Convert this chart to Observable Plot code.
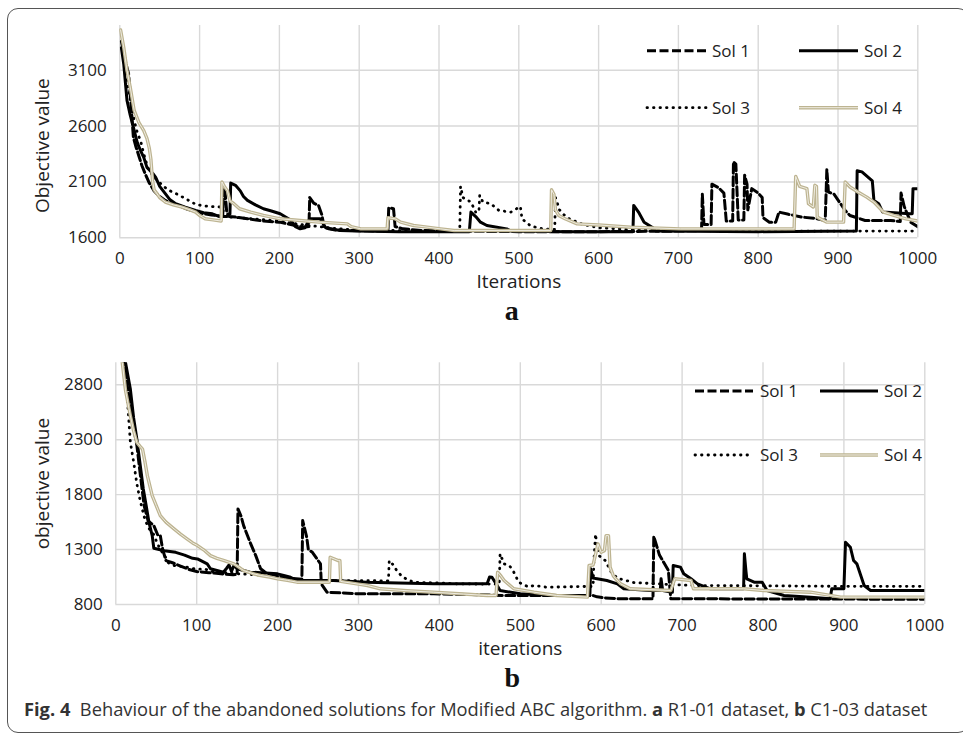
<!DOCTYPE html>
<html><head><meta charset="utf-8">
<script src="https://cdn.jsdelivr.net/npm/d3@7"></script>
<script src="https://cdn.jsdelivr.net/npm/@observablehq/plot@0.6"></script>
<style>
body{margin:0;background:#fff;font-family:"Open Sans",sans-serif;}
#page{position:relative;width:963px;height:736px;overflow:hidden;background:#fff;}
#frame{position:absolute;left:7px;top:8px;width:962px;height:725px;border:1px solid #555;border-radius:11px;box-sizing:border-box;z-index:5;pointer-events:none;}
.chart{position:absolute;left:0;}
.chart svg{background:none !important;}
#caption{position:absolute;left:24px;top:696px;font-size:18.3px;color:#333;white-space:pre;font-family:"Open Sans",sans-serif;line-height:normal;}
#legend{position:absolute;left:0;top:0;z-index:4;}
</style></head><body><div id="page"><div id="frame"></div></div>
<script>
const iterTicks = [0,100,200,300,400,500,600,700,800,900,1000];
const yTicksA = [1600,2100,2600,3100];
const yTicksB = [800,1300,1800,2300,2800];
const seriesNames = ["Sol 1","Sol 2","Sol 3","Sol 4"];

// Panel a (R1-01): [iteration, objective value]
const a_sol1 = [[2,3360],[5,3250],[8,3150],[11,3070],[14,2800],[17,2500],[20,2420],[24,2330],[28,2240],[32,2170],[37,2090],[43,2020],[50,1970],[57,1935],[65,1905],[75,1885],[85,1855],[95,1835],[105,1815],[115,1805],[125,1795],[129,1795],[130,2060],[132,2000],[134,1830],[137,1790],[145,1785],[160,1770],[180,1750],[200,1740],[210,1725],[220,1710],[230,1695],[237,1700],[238,1960],[243,1910],[249,1890],[253,1810],[256,1700],[262,1680],[270,1670],[290,1665],[310,1662],[336,1660],[337,1870],[343,1860],[345,1700],[355,1680],[380,1665],[420,1660],[500,1655],[600,1655],[700,1660],[727,1665],[729,1670],[730,1990],[732,1720],[741,1720],[742,2080],[750,2050],[757,2000],[760,1750],[768,1750],[769,2280],[772,2260],[775,1760],[782,1760],[783,2160],[786,2080],[787,1850],[792,2040],[800,2000],[805,1960],[806,1780],[814,1740],[822,1740],[826,1830],[838,1810],[855,1785],[870,1775],[884,1755],[886,2210],[888,2010],[895,1990],[909,1845],[915,1800],[934,1755],[966,1755],[978,1745],[979,2000],[983,1880],[991,1740],[1000,1700]];
const a_sol2 = [[2,3300],[5,3150],[9,2830],[13,2700],[17,2590],[22,2450],[26,2380],[30,2320],[34,2230],[38,2200],[42,2170],[45,2140],[50,2060],[57,1995],[63,1940],[70,1905],[82,1875],[95,1845],[105,1825],[116,1815],[125,1790],[134,1790],[136,1810],[138,1810],[139,2090],[145,2070],[151,2020],[155,1970],[160,1935],[170,1895],[180,1860],[190,1840],[201,1815],[214,1760],[220,1700],[226,1680],[232,1690],[238,1770],[251,1770],[258,1690],[276,1665],[297,1660],[350,1655],[438,1655],[440,1830],[446,1790],[452,1740],[460,1710],[485,1680],[490,1660],[560,1655],[643,1655],[644,1890],[650,1830],[657,1740],[667,1695],[672,1660],[800,1655],[923,1660],[924,2200],[930,2190],[943,2110],[945,1935],[951,1905],[956,1830],[990,1815],[993,1815],[994,2040],[1000,2040]];
const a_sol3 = [[2,3300],[6,3150],[10,2950],[14,2800],[18,2650],[22,2540],[26,2470],[30,2350],[35,2230],[40,2170],[46,2120],[52,2080],[60,2030],[72,1990],[85,1940],[95,1900],[105,1885],[115,1880],[127,1875],[129,1870],[131,1790],[150,1780],[175,1765],[200,1750],[225,1720],[250,1700],[275,1680],[300,1670],[350,1665],[400,1660],[426,1660],[427,2060],[430,1960],[440,1920],[446,1830],[450,1830],[451,1980],[455,1920],[465,1905],[475,1845],[490,1830],[502,1880],[504,1770],[515,1705],[530,1680],[545,1675],[546,1960],[551,1850],[560,1780],[580,1720],[600,1690],[650,1670],[700,1665],[800,1660],[900,1660],[1000,1660]];
const a_sol4 = [[1,3460],[5,3300],[9,3100],[13,2950],[18,2740],[24,2630],[30,2560],[34,2490],[37,2400],[39,2300],[41,2110],[43,2030],[50,1960],[57,1920],[67,1895],[78,1875],[88,1850],[95,1830],[100,1800],[107,1770],[117,1760],[127,1750],[128,2100],[131,2060],[135,2020],[138,1930],[143,1905],[150,1860],[164,1830],[180,1800],[201,1770],[226,1755],[250,1740],[285,1725],[290,1700],[302,1680],[335,1680],[336,1780],[345,1770],[352,1740],[368,1710],[380,1700],[402,1680],[419,1665],[540,1665],[541,2030],[544,1990],[546,1850],[550,1800],[558,1770],[573,1725],[600,1715],[640,1695],[703,1680],[845,1680],[847,2150],[852,2060],[861,2040],[863,1905],[869,1875],[871,2070],[873,2060],[874,1785],[886,1740],[907,1740],[909,2100],[915,2055],[925,2010],[936,1964],[945,1920],[957,1830],[970,1800],[985,1770],[1000,1750]];

// Panel b (C1-03)
const b_sol1 = [[9,3060],[14,2800],[20,2500],[26,2250],[30,2000],[35,1700],[40,1560],[47,1518],[52,1430],[55,1427],[58,1300],[62,1200],[70,1180],[80,1150],[90,1120],[100,1100],[115,1090],[130,1080],[145,1070],[150,1075],[151,1670],[155,1600],[158,1518],[166,1366],[173,1245],[179,1125],[185,1090],[200,1060],[215,1040],[230,1030],[231,1564],[236,1412],[238,1300],[243,1275],[253,1170],[254,988],[261,912],[302,897],[393,897],[440,890],[480,882],[540,882],[590,882],[595,870],[605,860],[624,852],[664,852],[665,1420],[672,1250],[683,1110],[686,852],[1000,848]];
const b_sol2 = [[10,3060],[12,3002],[18,2761],[22,2500],[26,2306],[30,2080],[34,1852],[38,1680],[41,1548],[45,1427],[47,1312],[60,1290],[74,1275],[85,1250],[95,1220],[101,1215],[113,1170],[117,1125],[125,1110],[133,1094],[137,1130],[140,1160],[143,1100],[146,1155],[150,1125],[166,1094],[180,1090],[200,1079],[210,1060],[216,1048],[224,1018],[269,1018],[310,1003],[350,995],[393,988],[459,988],[462,1050],[465,1048],[470,990],[475,927],[500,897],[545,882],[586,882],[587,1125],[590,1040],[595,1034],[607,1018],[620,988],[628,943],[661,927],[673,927],[674,1034],[676,927],[688,912],[689,1155],[698,1140],[702,1080],[711,1034],[719,988],[735,943],[776,943],[777,1261],[779,1100],[780,1034],[789,1003],[799,1003],[805,927],[826,882],[859,867],[883,852],[885,943],[900,943],[902,1366],[908,1321],[912,1200],[916,1170],[925,973],[933,927],[1000,927]];
const b_sol3 = [[9,3060],[14,2700],[18,2275],[22,2100],[26,1900],[30,1750],[35,1600],[40,1500],[46,1450],[50,1380],[55,1300],[60,1250],[65,1180],[72,1155],[88,1140],[100,1120],[109,1125],[120,1100],[135,1090],[150,1080],[175,1070],[200,1050],[225,1020],[260,1018],[300,1018],[337,1015],[338,1200],[343,1160],[348,1100],[355,1048],[368,1003],[400,995],[422,988],[474,985],[475,1261],[480,1170],[487,1150],[492,1094],[498,1003],[510,960],[517,973],[533,957],[578,964],[590,964],[591,1200],[593,1442],[595,1321],[597,1245],[600,1230],[605,1200],[612,1100],[620,1040],[640,1000],[665,990],[690,980],[714,973],[800,970],[900,965],[1000,965]];
const b_sol4 = [[7,3060],[8,3002],[12,2750],[18,2518],[22,2380],[26,2275],[30,2240],[33,2215],[36,2100],[39,1973],[45,1791],[50,1700],[55,1609],[62,1550],[72,1488],[80,1440],[88,1397],[95,1360],[101,1336],[110,1290],[117,1245],[125,1220],[134,1200],[146,1170],[152,1140],[158,1109],[170,1080],[179,1064],[190,1050],[200,1034],[212,1020],[224,1003],[264,1003],[265,1230],[275,1200],[277,1200],[278,1010],[300,985],[311,973],[327,943],[360,925],[393,912],[430,895],[459,882],[470,882],[472,1094],[476,1060],[480,1018],[492,943],[517,912],[545,882],[583,867],[585,1155],[590,1160],[596,1351],[600,1275],[604,1290],[606,1427],[609,1427],[611,1140],[615,1060],[618,1034],[624,988],[636,943],[686,927],[691,1034],[711,1018],[714,943],[776,943],[801,927],[859,912],[896,867],[1000,867]];

const FONT = "Open Sans";
const lineStyles = [
  [{stroke:"#000", strokeWidth:3, strokeDasharray:"9,3.5"}],
  [{stroke:"#000", strokeWidth:3}],
  [{stroke:"#000", strokeWidth:2.8, strokeDasharray:"0.5,6", strokeLinecap:"round"}],
  [{stroke:"#bdb491", strokeWidth:3.4}, {stroke:"#efece2", strokeWidth:1}]
];
const fmt = d => String(d);

function makeChart(cfg) {
  const marks = [
    Plot.gridX(iterTicks, {stroke:"#d9d9d9", strokeOpacity:1, strokeWidth:1.4}),
    Plot.gridY(cfg.yTicks, {stroke:"#d9d9d9", strokeOpacity:1, strokeWidth:1.4}),
    Plot.axisX(iterTicks, {tickSize:0, tickPadding:cfg.xPad, fontSize:17, label:null, fill:"#222", tickFormat: fmt}),
    Plot.axisY(cfg.yTicks, {tickSize:0, tickPadding:cfg.yPad, fontSize:17, label:null, fill:"#222", tickFormat: fmt})
  ];
  cfg.series.forEach((s, i) => {
    for (const st of lineStyles[i]) {
      marks.push(Plot.line(s, {x: d => d[0], y: d => d[1], clip: true, strokeLinejoin:"round", ...st}));
    }
  });
  marks.push(Plot.text([cfg.xLabel], {text: d => d, frameAnchor:"bottom", dy: cfg.xLabelDy, fontSize:19, fill:"#222"}));
  marks.push(Plot.text([cfg.yLabel], {text: d => d, frameAnchor:"left", dx: cfg.yLabelDx, dy: cfg.yLabelDy, rotate:-90, textAnchor:"middle", fontSize:19, fill:"#222"}));
  marks.push(Plot.text([cfg.panel], {text: d => d, frameAnchor:"bottom", dx: cfg.panelDx, dy: cfg.panelDy, fontSize:28, fontWeight:"bold", fontFamily:"Liberation Serif", fill:"#111"}));
  return Plot.plot({
    width: 963, height: cfg.height,
    marginLeft: cfg.ml, marginRight: cfg.mr, marginTop: cfg.mt, marginBottom: cfg.mb,
    style: {fontFamily: FONT, fontSize: "17px", background: "none", overflow: "visible"},
    x: {domain: [0, 1000]},
    y: {domain: cfg.yDomain},
    marks
  });
}

const page = document.getElementById("page");
const chartA = makeChart({
  series: [a_sol1, a_sol2, a_sol3, a_sol4], yDomain: [1600, 3500], yTicks: yTicksA,
  height: 330, ml: 119.3, mr: 45.7, mt: 25, mb: 92.7, xPad: 14, yPad: 13,
  xLabel: "Iterations", xLabelDy: 50.5, yLabel: "Objective value", yLabelDx: -77, yLabelDy: 14,
  panel: "a", panelDx: -7, panelDy: 82
});
const chartB = makeChart({
  series: [b_sol1, b_sol2, b_sol3, b_sol4], yDomain: [800, 3000], yTicks: yTicksB,
  height: 406, ml: 115.3, mr: 38.7, mt: 32.3, mb: 132, xPad: 14, yPad: 13,
  xLabel: "iterations", xLabelDy: 50.5, yLabel: "objective value", yLabelDx: -73, yLabelDy: 0,
  panel: "b", panelDx: -8, panelDy: 82
});
const wa = document.createElement("div"); wa.className = "chart"; wa.style.top = "0px"; wa.appendChild(chartA); page.appendChild(wa);
const wb = document.createElement("div"); wb.className = "chart"; wb.style.top = "330px"; wb.appendChild(chartB); page.appendChild(wb);

// Legends (inside each plot area, two rows x two columns)
const legendSvg = d3.select(page).append("svg").attr("id","legend").attr("width",963).attr("height",736);
const legendLayouts = [
  {rows:[50.7,107.7], cols:[[647,707,712],[799,858,864]]},
  {rows:[391,455], cols:[[695,753,760],[820,878,884]]}
];
legendLayouts.forEach(L => {
  seriesNames.forEach((name, i) => {
    const r = Math.floor(i / 2), c = i % 2;
    const y = L.rows[r], [x1, x2, tx] = L.cols[c];
    for (const st of lineStyles[i]) {
      legendSvg.append("line").attr("x1", x1).attr("x2", x2).attr("y1", y).attr("y2", y)
        .attr("stroke", st.stroke).attr("stroke-width", st.strokeWidth)
        .attr("stroke-dasharray", st.strokeDasharray || null)
        .attr("stroke-linecap", st.strokeLinecap || "butt");
    }
    legendSvg.append("text").attr("x", tx).attr("y", y).attr("dy", "0.35em")
      .attr("font-family", FONT).attr("font-size", 17).attr("fill", "#222").text(name);
  });
});

const cap = document.createElement("div");
cap.id = "caption";
cap.innerHTML = '<b>Fig. 4</b>  Behaviour of the abandoned solutions for Modified ABC algorithm. <b>a</b> R1-01 dataset, <b>b</b> C1-03 dataset';
page.appendChild(cap);
</script></body></html>
